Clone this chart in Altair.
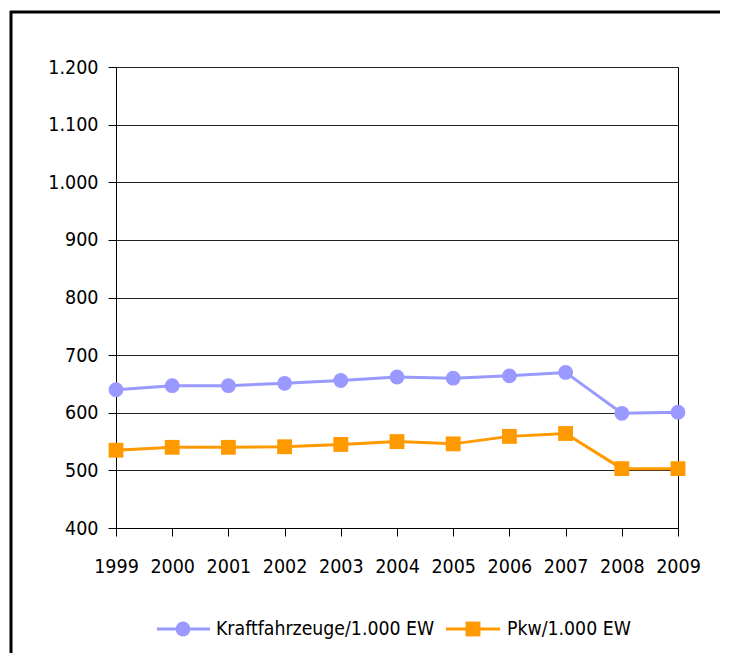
import altair as alt
import pandas as pd

# ---- data ----
years = [1999, 2000, 2001, 2002, 2003, 2004, 2005, 2006, 2007, 2008, 2009]
kfz = [640, 647, 647, 651, 656, 662, 660, 664, 670, 599, 601]
pkw = [535, 540, 540, 541, 545, 550, 546, 559, 564, 503, 503]
series_names = ["Kraftfahrzeuge/1.000 EW", "Pkw/1.000 EW"]
y_ticks = [400, 500, 600, 700, 800, 900, 1000, 1100, 1200]

colors = ["#9999FF", "#FF9900"]
shapes = ["circle", "square"]
FONT = "DejaVu Sans Condensed, Liberation Sans Narrow, sans-serif"
AXIS_FS = 19.5
LEG_FS = 19.3

rows = []
for name, vals in zip(series_names, [kfz, pkw]):
    for yr, v in zip(years, vals):
        rows.append({"Jahr": yr, "Wert": v, "Serie": name})
df = pd.DataFrame(rows)

color_scale = alt.Scale(domain=series_names, range=colors)
shape_scale = alt.Scale(domain=series_names, range=shapes)

x_enc = alt.X("Jahr:Q", scale=alt.Scale(domain=[1999, 2009], nice=False, zero=False),
              axis=alt.Axis(values=years, format="d", title=None, grid=False,
                            tickSize=8, labelPadding=21, labelFlush=False,
                            labelOverlap=False))
y_enc = alt.Y("Wert:Q", scale=alt.Scale(domain=[400, 1200], nice=False, zero=False),
              axis=alt.Axis(values=y_ticks, title=None, grid=True, tickSize=8,
                            labelPadding=10, labelFlush=False, labelOverlap=False,
                            labelExpr="replace(format(datum.value, ',d'), ',', '.')"))

base = alt.Chart(df)
lines = base.mark_line(strokeWidth=3).encode(
    x=x_enc, y=y_enc,
    color=alt.Color("Serie:N", scale=color_scale, legend=None),
    detail="Serie:N",
)
points = base.mark_point(filled=True, size=220, opacity=1).encode(
    x=x_enc, y=y_enc,
    color=alt.Color("Serie:N", scale=color_scale, legend=None),
    shape=alt.Shape("Serie:N", scale=shape_scale, legend=None),
)

one = pd.DataFrame({"a": [0]})
deco = []
# outer frame (top and left only)
deco.append(alt.Chart(one).mark_rule(color="black", strokeWidth=3).encode(
    x=alt.value(-106), x2=alt.value(604), y=alt.value(-55)))
deco.append(alt.Chart(one).mark_rule(color="black", strokeWidth=3).encode(
    x=alt.value(-105), y=alt.value(-56), y2=alt.value(600)))

# custom legend
legend_y = 562
legend_pos = [(41, 94, 67, 100), (330, 384, 357, 391)]
for name, col, shp, (x1, x2, xm, xt) in zip(series_names, colors, shapes, legend_pos):
    deco.append(alt.Chart(one).mark_rule(color=col, strokeWidth=3).encode(
        x=alt.value(x1), x2=alt.value(x2), y=alt.value(legend_y)))
    deco.append(alt.Chart(one).mark_point(filled=True, size=220, opacity=1,
                                          color=col, shape=shp).encode(
        x=alt.value(xm), y=alt.value(legend_y)))
    deco.append(alt.Chart(one).mark_text(align="left", baseline="middle", font=FONT,
                                         fontSize=LEG_FS, color="black").encode(
        x=alt.value(xt), y=alt.value(legend_y), text=alt.value(name)))

chart = alt.layer(lines, points, *deco).properties(
    width=562, height=461,
    padding={"left": 108, "top": 59, "right": 43, "bottom": 125},
    autosize=alt.AutoSizeParams(type="none"),
    background="white",
).configure_view(
    stroke="black", strokeWidth=1
).configure_axis(
    domainColor="black", tickColor="black", gridColor="#222222", gridWidth=1,
    labelFont=FONT, labelFontSize=AXIS_FS, labelColor="black",
)

chart.save("out.html", embed_options={"renderer": "svg", "actions": False})
